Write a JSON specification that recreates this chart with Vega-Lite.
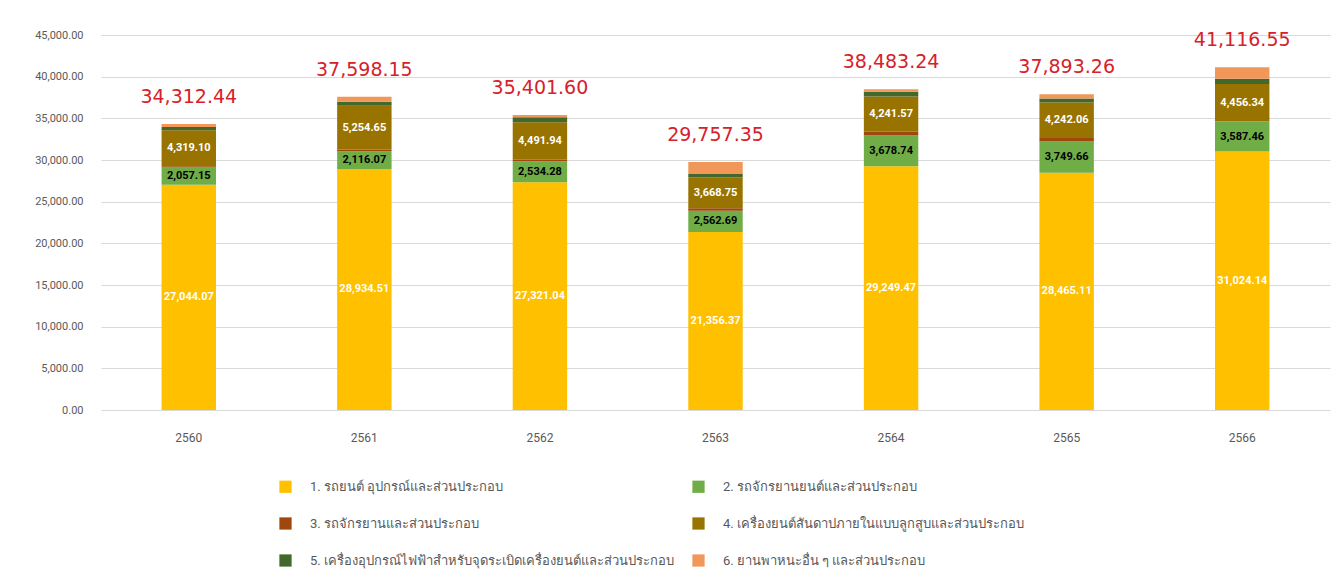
{
  "$schema": "https://vega.github.io/schema/vega-lite/v6.json",
  "autosize": {"type": "none"},
  "width": 1229,
  "height": 375,
  "padding": {"left": 101, "top": 35, "right": 11, "bottom": 178},
  "background": "white",
  "config": {
    "view": {"stroke": null},
    "font": "Roboto",
    "axis": {"labelColor": "#595959", "labelFontSize": 11, "titleColor": "#595959"},
    "axisY": {"title": null, "format": ",.2f", "values": [0,5000,10000,15000,20000,25000,30000,35000,40000,45000], "ticks": false, "domain": false, "gridColor": "#D9D9D9", "labelPadding": 18}
  },
  "resolve": {"scale": {"y": "shared"}},
  "datasets": {
    "segments": [
      {"year": "2560", "category": "1. รถยนต์ อุปกรณ์และส่วนประกอบ", "order": 1, "value": 27044.07},
      {"year": "2560", "category": "2. รถจักรยานยนต์และส่วนประกอบ", "order": 2, "value": 2057.15},
      {"year": "2560", "category": "3. รถจักรยานและส่วนประกอบ", "order": 3, "value": 150},
      {"year": "2560", "category": "4. เครื่องยนต์สันดาปภายในแบบลูกสูบและส่วนประกอบ", "order": 4, "value": 4319.10},
      {"year": "2560", "category": "5. เครื่องอุปกรณ์ไฟฟ้าสำหรับจุดระเบิดเครื่องยนต์และส่วนประกอบ", "order": 5, "value": 400},
      {"year": "2560", "category": "6. ยานพาหนะอื่น ๆ และส่วนประกอบ", "order": 6, "value": 342.12},

      {"year": "2561", "category": "1. รถยนต์ อุปกรณ์และส่วนประกอบ", "order": 1, "value": 28934.51},
      {"year": "2561", "category": "2. รถจักรยานยนต์และส่วนประกอบ", "order": 2, "value": 2116.07},
      {"year": "2561", "category": "3. รถจักรยานและส่วนประกอบ", "order": 3, "value": 212.92},
      {"year": "2561", "category": "4. เครื่องยนต์สันดาปภายในแบบลูกสูบและส่วนประกอบ", "order": 4, "value": 5254.65},
      {"year": "2561", "category": "5. เครื่องอุปกรณ์ไฟฟ้าสำหรับจุดระเบิดเครื่องยนต์และส่วนประกอบ", "order": 5, "value": 460},
      {"year": "2561", "category": "6. ยานพาหนะอื่น ๆ และส่วนประกอบ", "order": 6, "value": 620},

      {"year": "2562", "category": "1. รถยนต์ อุปกรณ์และส่วนประกอบ", "order": 1, "value": 27321.04},
      {"year": "2562", "category": "2. รถจักรยานยนต์และส่วนประกอบ", "order": 2, "value": 2534.28},
      {"year": "2562", "category": "3. รถจักรยานและส่วนประกอบ", "order": 3, "value": 174.34},
      {"year": "2562", "category": "4. เครื่องยนต์สันดาปภายในแบบลูกสูบและส่วนประกอบ", "order": 4, "value": 4491.94},
      {"year": "2562", "category": "5. เครื่องอุปกรณ์ไฟฟ้าสำหรับจุดระเบิดเครื่องยนต์และส่วนประกอบ", "order": 5, "value": 600},
      {"year": "2562", "category": "6. ยานพาหนะอื่น ๆ และส่วนประกอบ", "order": 6, "value": 280},

      {"year": "2563", "category": "1. รถยนต์ อุปกรณ์และส่วนประกอบ", "order": 1, "value": 21356.37},
      {"year": "2563", "category": "2. รถจักรยานยนต์และส่วนประกอบ", "order": 2, "value": 2562.69},
      {"year": "2563", "category": "3. รถจักรยานและส่วนประกอบ", "order": 3, "value": 299.54},
      {"year": "2563", "category": "4. เครื่องยนต์สันดาปภายในแบบลูกสูบและส่วนประกอบ", "order": 4, "value": 3668.75},
      {"year": "2563", "category": "5. เครื่องอุปกรณ์ไฟฟ้าสำหรับจุดระเบิดเครื่องยนต์และส่วนประกอบ", "order": 5, "value": 420},
      {"year": "2563", "category": "6. ยานพาหนะอื่น ๆ และส่วนประกอบ", "order": 6, "value": 1450},

      {"year": "2564", "category": "1. รถยนต์ อุปกรณ์และส่วนประกอบ", "order": 1, "value": 29249.47},
      {"year": "2564", "category": "2. รถจักรยานยนต์และส่วนประกอบ", "order": 2, "value": 3678.74},
      {"year": "2564", "category": "3. รถจักรยานและส่วนประกอบ", "order": 3, "value": 453.46},
      {"year": "2564", "category": "4. เครื่องยนต์สันดาปภายในแบบลูกสูบและส่วนประกอบ", "order": 4, "value": 4241.57},
      {"year": "2564", "category": "5. เครื่องอุปกรณ์ไฟฟ้าสำหรับจุดระเบิดเครื่องยนต์และส่วนประกอบ", "order": 5, "value": 560},
      {"year": "2564", "category": "6. ยานพาหนะอื่น ๆ และส่วนประกอบ", "order": 6, "value": 300},

      {"year": "2565", "category": "1. รถยนต์ อุปกรณ์และส่วนประกอบ", "order": 1, "value": 28465.11},
      {"year": "2565", "category": "2. รถจักรยานยนต์และส่วนประกอบ", "order": 2, "value": 3749.66},
      {"year": "2565", "category": "3. รถจักรยานและส่วนประกอบ", "order": 3, "value": 436.43},
      {"year": "2565", "category": "4. เครื่องยนต์สันดาปภายในแบบลูกสูบและส่วนประกอบ", "order": 4, "value": 4242.06},
      {"year": "2565", "category": "5. เครื่องอุปกรณ์ไฟฟ้าสำหรับจุดระเบิดเครื่องยนต์และส่วนประกอบ", "order": 5, "value": 480},
      {"year": "2565", "category": "6. ยานพาหนะอื่น ๆ และส่วนประกอบ", "order": 6, "value": 520},

      {"year": "2566", "category": "1. รถยนต์ อุปกรณ์และส่วนประกอบ", "order": 1, "value": 31024.14},
      {"year": "2566", "category": "2. รถจักรยานยนต์และส่วนประกอบ", "order": 2, "value": 3587.46},
      {"year": "2566", "category": "3. รถจักรยานและส่วนประกอบ", "order": 3, "value": 48.61},
      {"year": "2566", "category": "4. เครื่องยนต์สันดาปภายในแบบลูกสูบและส่วนประกอบ", "order": 4, "value": 4456.34},
      {"year": "2566", "category": "5. เครื่องอุปกรณ์ไฟฟ้าสำหรับจุดระเบิดเครื่องยนต์และส่วนประกอบ", "order": 5, "value": 640},
      {"year": "2566", "category": "6. ยานพาหนะอื่น ๆ และส่วนประกอบ", "order": 6, "value": 1360}
    ],
    "totals": [
      {"year": "2560", "total": 34312.44},
      {"year": "2561", "total": 37598.15},
      {"year": "2562", "total": 35401.60},
      {"year": "2563", "total": 29757.35},
      {"year": "2564", "total": 38483.24},
      {"year": "2565", "total": 37893.26},
      {"year": "2566", "total": 41116.55}
    ]
  },
  "encoding": {
    "x": {
      "field": "year", "type": "nominal",
      "scale": {"paddingInner": 0.69, "paddingOuter": 0.345},
      "axis": {"title": null, "labelAngle": 0, "ticks": false, "domain": false, "labelPadding": 22, "labelFontSize": 12}
    }
  },
  "layer": [
    {
      "data": {"name": "segments"},
      "transform": [
        {"stack": "value", "groupby": ["year"], "sort": [{"field": "order", "order": "ascending"}], "as": ["y0", "y1"]}
      ],
      "mark": {"type": "bar"},
      "encoding": {
        "y": {
          "field": "y0", "type": "quantitative",
          "scale": {"domain": [0, 45000], "nice": false}
        },
        "y2": {"field": "y1"},
        "color": {
          "field": "category", "type": "nominal",
          "scale": {
            "domain": [
              "1. รถยนต์ อุปกรณ์และส่วนประกอบ",
              "3. รถจักรยานและส่วนประกอบ",
              "5. เครื่องอุปกรณ์ไฟฟ้าสำหรับจุดระเบิดเครื่องยนต์และส่วนประกอบ",
              "2. รถจักรยานยนต์และส่วนประกอบ",
              "4. เครื่องยนต์สันดาปภายในแบบลูกสูบและส่วนประกอบ",
              "6. ยานพาหนะอื่น ๆ และส่วนประกอบ"
            ],
            "range": ["#FFC000", "#9E480E", "#43682B", "#70AD47", "#997300", "#F1975A"]
          },
          "legend": {
            "title": null,
            "orient": "none",
            "legendX": 178,
            "legendY": 445,
            "columns": 2,
            "symbolType": "square",
            "symbolSize": 150,
            "symbolStrokeWidth": 0,
            "labelFontSize": 13,
            "labelColor": "#595959",
            "labelLimit": 600,
            "labelOffset": 18,
            "rowPadding": 23,
            "columnPadding": 18
          }
        }
      }
    },
    {
      "data": {"name": "segments"},
      "transform": [
        {"stack": "value", "groupby": ["year"], "sort": [{"field": "order", "order": "ascending"}], "as": ["y0", "y1"]},
        {"calculate": "(datum.y0 + datum.y1) / 2", "as": "mid"},
        {"filter": "datum.order == 1 || datum.order == 4"}
      ],
      "mark": {"type": "text", "color": "white", "fontSize": 11, "fontWeight": "bold", "baseline": "middle"},
      "encoding": {
        "y": {"field": "mid", "type": "quantitative"},
        "text": {"field": "value", "type": "quantitative", "format": ",.2f"}
      }
    },
    {
      "data": {"name": "segments"},
      "transform": [
        {"stack": "value", "groupby": ["year"], "sort": [{"field": "order", "order": "ascending"}], "as": ["y0", "y1"]},
        {"calculate": "(datum.y0 + datum.y1) / 2", "as": "mid"},
        {"filter": "datum.order == 2"}
      ],
      "mark": {"type": "text", "color": "black", "fontSize": 11, "fontWeight": "bold", "baseline": "middle"},
      "encoding": {
        "y": {"field": "mid", "type": "quantitative"},
        "text": {"field": "value", "type": "quantitative", "format": ",.2f"}
      }
    },
    {
      "data": {"name": "totals"},
      "mark": {"type": "text", "color": "#D7202A", "font": "DejaVu Sans", "fontSize": 19, "baseline": "middle", "dy": -27},
      "encoding": {
        "y": {"field": "total", "type": "quantitative"},
        "text": {"field": "total", "type": "quantitative", "format": ",.2f"}
      }
    }
  ]
}
